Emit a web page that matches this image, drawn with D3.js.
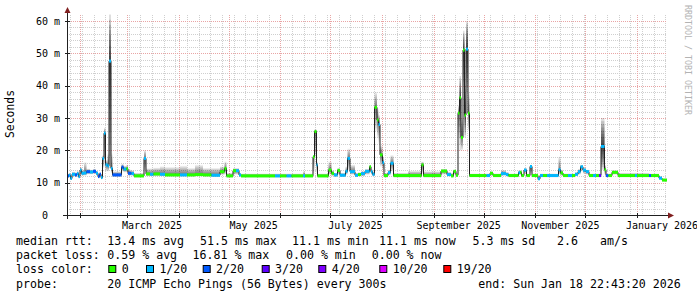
<!DOCTYPE html>
<html><head><meta charset="utf-8">
<script src="https://cdn.jsdelivr.net/npm/d3@7"></script>
<style>html,body{margin:0;padding:0;background:#fff;}svg{display:block;}text{font-family:"DejaVu Sans Mono",monospace;}</style>
</head><body><div id="chart"></div>
<script>
// ---------- data ----------
const startDate = "2025-01-24T00:00:00Z";
const endDate = "2026-01-19T00:00:00Z";
// start of each sample run, in days after startDate
const dayOffsets = [0,1.2,2.1,3,4.8,6,6.9,7.8,8.7,10.2,11.7,13.8,15.6,17.4,18.6,19.5,20.4,21.3,22.2,23.1,24.3,25.2,26.4,27.3,32.7,33.9,35.7,36.6,38.7,40.2,46.2,47.4,49.8,51.9,55.8,58.8,67.8,72,76.8,81.6,86.7,91.8,94.5,95.7,99.6,101.4,103.2,104.4,124.8,127.8,131.7,134.7,141.6,142.8,147.6,148.5,149.7,150.3,156.9,158.7,160.2,162.3,163.8,167.1,168.3,169.8,172.8,174.6,176.4,178.8,181.5,182.4,183.3,184.5,186,186.9,187.8,189.3,190.2,192.6,194.1,195.9,204.6,212.7,213.9,224.4,228,230.4,231.9,233.4,234.6,235.5,236.4,237.6,238.5,239.4,240.6,241.5,251.7,253.8,255.6,260.4,263.4,264.9,270.9,271.8,272.7,274.2,275.7,277.8,279,282.6,283.8,285.6,288,294.9,296.1,297.6,300.6,303,304.8,306.6,308.1,309.6,311.4,313.2,315.6,317.4,319.2,320.4,322.5,323.4,324.9,327,330.6,340.8,342,349.2,350.4,355.2,357];
// median rtt (ms)
const medianMs = [12.1,12.3,11.3,12.6,12.4,12.8,11.9,13.9,12.9,13.0,13.4,13.3,13.5,12.9,11.9,12.6,11.6,17.5,25.3,15.5,15.2,47.6,14.4,12.4,14.8,14.2,14.3,12.9,12.8,12.1,17.5,12.7,12.6,12.7,12.6,12.4,12.4,12.4,12.5,12.4,12.3,13.4,14.4,12.1,13.7,13.7,12.4,12.1,12.1,12.1,12.1,12.1,12.1,12.1,18.0,25.8,15.5,12.1,13.9,12.9,12.4,13.8,12.3,13.5,17.5,13.4,12.3,12.5,12.8,13.5,14.9,13.4,12.6,33.3,29.4,28.0,18.6,16.2,12.2,13.1,16.0,12.2,12.2,15.5,12.2,13.6,12.5,12.1,13.5,12.3,31.5,36.3,24.0,51.0,30.9,51.3,31.5,12.2,12.2,12.9,12.2,12.8,12.5,12.2,13.1,13.2,12.2,13.9,12.2,15.0,12.2,11.2,12.2,12.2,12.2,14.0,13.0,12.2,12.2,12.2,12.6,13.4,14.9,13.9,13.4,12.2,12.2,12.2,12.2,21.2,14.0,12.2,12.2,13.2,12.2,12.2,12.2,12.2,12.2,11.4,10.8];
// lost pings out of 20
const lossCount = [2,1,1,1,2,1,1,1,1,1,2,1,2,1,2,2,1,1,1,1,1,1,1,2,2,1,0,2,1,0,1,0,1,0,1,0,1,0,0,0,1,0,0,0,0,1,1,0,1,0,1,0,1,0,0,0,1,0,0,0,1,0,1,1,1,1,1,0,1,1,0,1,1,0,0,1,0,1,0,1,1,0,0,0,0,0,1,0,0,0,0,0,0,0,0,1,0,0,1,0,0,1,1,0,1,0,0,1,0,1,0,1,1,0,1,1,0,0,1,0,1,1,1,1,1,0,1,0,3,1,0,2,0,0,0,1,0,2,0,1,0];
// smoke extent: lowest and highest ping (ms)
const smokeLowMs = [11.5,11.6,10.9,11.9,11.8,12.1,11.3,12.8,12.2,12.2,12.6,12.6,12.7,12.2,11.3,12.0,11.0,14.5,15.0,13.5,13.5,14.5,13.0,11.8,13.5,13.2,13.2,12.2,12.2,11.6,13.5,12.0,12.0,12.0,12.0,11.9,11.9,11.9,12.0,11.9,11.8,12.4,12.6,11.6,12.5,12.5,11.8,11.6,11.6,11.6,11.6,11.6,11.6,11.6,13.0,18.0,13.0,11.6,12.5,12.0,11.8,12.5,11.8,12.5,14.0,12.5,11.8,12.0,12.0,12.5,13.0,12.5,12.0,26.0,24.0,22.0,15.0,14.0,11.6,12.3,13.5,11.6,11.6,13.0,11.6,12.5,12.0,11.6,12.5,11.8,24.0,20.0,20.0,40.0,24.0,38.0,26.0,11.7,11.7,12.2,11.7,12.2,12.0,11.7,12.4,12.4,11.7,12.8,11.7,13.0,11.7,10.8,11.7,11.7,11.7,12.5,12.2,11.7,11.7,11.7,12.0,12.5,13.5,12.8,12.5,11.7,11.7,11.7,11.7,14.0,12.5,11.7,11.7,12.5,11.7,11.7,11.7,11.7,11.7,11.0,10.4];
const smokeHighMs = [12.8,13.0,12.0,13.3,13.2,13.6,12.6,14.8,14.0,16.3,14.3,14.0,14.2,13.6,12.6,13.2,12.3,18.5,27.0,17.0,19.0,62.0,19.0,13.5,15.8,15.2,15.5,14.0,13.8,13.0,20.0,14.4,14.4,14.6,15.0,14.8,15.2,14.5,15.5,14.5,14.5,15.0,16.5,13.0,14.5,14.5,13.0,12.8,12.8,12.8,12.8,12.8,13.5,12.8,18.5,26.5,16.5,12.8,16.5,13.8,13.0,14.5,13.0,15.0,20.5,15.5,13.0,13.2,13.5,14.2,15.5,14.2,13.5,38.0,33.0,31.0,21.5,18.0,13.0,14.0,18.5,13.0,13.6,16.5,13.5,14.2,13.3,13.0,14.0,13.0,34.0,43.0,30.0,57.0,40.0,60.0,38.0,12.8,12.8,13.5,12.8,13.9,13.3,12.8,13.8,13.8,12.8,14.5,12.8,15.5,12.8,11.8,12.8,12.8,12.8,18.0,14.0,12.8,12.8,12.8,13.2,14.2,15.5,14.5,14.0,12.8,12.8,12.8,12.8,30.0,15.5,12.8,12.8,13.8,13.0,13.0,13.0,12.8,12.8,12.0,11.3];
const yTicks = [0,10,20,30,40,50,60];
const lossLevels = [0,1,2,3,4,10,19];
const lossLabels = ["0","1/20","2/20","3/20","4/20","10/20","19/20"];
const lossColors = ["#26ff00","#00b8ff","#0059ff","#5e00ff","#7e00ff","#dd00ff","#ff0000"];
const legendRtt = ["median rtt:","13.4 ms avg","51.5 ms max","11.1 ms min","11.1 ms now","5.3 ms sd","2.6","am/s"];
const legendLoss = ["packet loss:","0.59 % avg","16.81 % max","0.00 % min","0.00 % now"];
const probeText = ["probe:","20 ICMP Echo Pings (56 Bytes) every 300s","end: Sun Jan 18 22:43:20 2026"];

// ---------- drawing ----------
const W = 697, H = 297;
const svg = d3.select("#chart").append("svg").attr("width", W).attr("height", H);
svg.append("rect").attr("width", W).attr("height", H).attr("fill", "#fff");

const t0 = new Date(startDate), t1 = new Date(endDate);
const x = d3.scaleUtc().domain([t0, t1]).range([67, 667]);
const y = d3.scaleLinear().domain([0, 61.86]).range([215, 15]);
const dayToDate = d => new Date(t0.getTime() + d * 86400000);

// grid
const grid = svg.append("g");
const months = d3.utcMonth.range(t0, t1);
const monthKeys = new Set(months.map(d => +d));
d3.utcSunday.range(t0, t1).filter(d => !monthKeys.has(+d)).forEach(d => {
  grid.append("line").attr("x1", Math.round(x(d)) + 0.5).attr("x2", Math.round(x(d)) + 0.5)
    .attr("y1", 15).attr("y2", 215).attr("stroke", "#cfcfcf").attr("stroke-dasharray", "1,1");
});
for (let v = 2; v <= 60; v += 2) {
  if (v % 10 === 0) continue;
  const yy = Math.round(y(v)) + 0.5;
  grid.append("line").attr("x1", 67).attr("x2", 667).attr("y1", yy).attr("y2", yy)
    .attr("stroke", "#cfcfcf").attr("stroke-dasharray", "1,1");
}
months.forEach(d => {
  grid.append("line").attr("x1", Math.round(x(d)) + 0.5).attr("x2", Math.round(x(d)) + 0.5)
    .attr("y1", 15).attr("y2", 215).attr("stroke", "#e9a5a5").attr("stroke-dasharray", "1,1");
});
yTicks.filter(v => v > 0).forEach(v => {
  const yy = Math.round(y(v)) + 0.5;
  grid.append("line").attr("x1", 67).attr("x2", 667).attr("y1", yy).attr("y2", yy)
    .attr("stroke", "#e9a5a5").attr("stroke-dasharray", "1,1");
});

// samples
const samples = dayOffsets.map((d, i) => ({
  x0: x(dayToDate(d)),
  x1: x(dayToDate(i + 1 < dayOffsets.length ? dayOffsets[i + 1] : 360)),
  m: medianMs[i], loss: lossCount[i], lo: smokeLowMs[i], hi: smokeHighMs[i]
}));

// smoke
const smoke = svg.append("g");
const layers = 9;
samples.forEach(s => {
  const spread = s.hi - s.lo;
  const op = spread > 15 ? 0.13 : 0.075;
  for (let k = 0; k < layers; k++) {
    const f = k / layers;
    const top = s.hi - (s.hi - s.m) * f;
    const bot = s.lo + (s.m - s.lo) * f;
    smoke.append("rect").attr("x", s.x0).attr("width", Math.max(0.8, s.x1 - s.x0))
      .attr("y", y(top)).attr("height", Math.max(0, y(bot) - y(top)))
      .attr("fill", "#000").attr("fill-opacity", op);
  }
});

// median line
const pts = samples.map(s => [s.x0, y(s.m)]);
pts.push([samples[samples.length - 1].x1, y(samples[samples.length - 1].m)]);
svg.append("path").attr("d", d3.line().curve(d3.curveStepAfter)(pts))
  .attr("fill", "none").attr("stroke", "#202020").attr("stroke-width", 1);

// loss-coloured median band
const colorFor = l => { let c = lossColors[0]; lossLevels.forEach((lv, i) => { if (l >= lv) c = lossColors[i]; }); return c; };
svg.append("g").selectAll("rect").data(samples).join("rect")
  .attr("x", s => s.x0).attr("width", s => Math.max(1, s.x1 - s.x0))
  .attr("y", s => y(s.m) - 1.5).attr("height", 3).attr("fill", s => colorFor(s.loss));

// axes
const ax = svg.append("g").attr("stroke", "#202020");
ax.append("line").attr("x1", 63).attr("x2", 671).attr("y1", 215.5).attr("y2", 215.5);
ax.append("line").attr("x1", 67.5).attr("x2", 67.5).attr("y1", 219).attr("y2", 12);
yTicks.forEach(v => {
  const yy = Math.round(y(v)) + 0.5;
  ax.append("line").attr("x1", 65).attr("x2", 70).attr("y1", yy).attr("y2", yy);
});
months.forEach(d => {
  const xx = Math.round(x(d)) + 0.5;
  ax.append("line").attr("x1", xx).attr("x2", xx).attr("y1", 213).attr("y2", 218);
});
svg.append("path").attr("d", "M668,212.5L674,215.5L668,218.5Z").attr("fill", "#801f1f");
svg.append("path").attr("d", "M64.5,13L67.5,7L70.5,13Z").attr("fill", "#801f1f");

// y labels
svg.append("g").selectAll("text").data(yTicks).join("text")
  .attr("x", v => v === 0 ? 48 : 60).attr("y", v => y(v) + 3.6)
  .attr("text-anchor", "end").attr("font-size", 10).attr("fill", "#000")
  .text(v => v === 0 ? "0" : v + " m");
// x labels
const labelMonths = months.filter(d => d.getUTCMonth() % 2 === 0);
svg.append("g").selectAll("text").data(labelMonths).join("text")
  .attr("x", d => x(new Date(d.getTime() + 15 * 86400000))).attr("y", 229)
  .attr("text-anchor", "middle").attr("font-size", 10).attr("fill", "#000")
  .text(d3.utcFormat("%B %Y"));

svg.append("text").attr("transform", "translate(14,114) rotate(-90)")
  .attr("text-anchor", "middle").attr("font-size", 11.4).attr("fill", "#000").text("Seconds");
svg.append("text").attr("transform", "translate(685,5) rotate(90)")
  .attr("font-size", 8.3).attr("fill", "#b3b3b3").text("RRDTOOL / TOBI OETIKER");

// legend
const lg = svg.append("g").attr("font-size", 11.6).attr("fill", "#000");
const rttX = [16,107.3,200,292,379,472.5,557,600];
legendRtt.forEach((t, i) => lg.append("text").attr("x", rttX[i]).attr("y", 244.5).text(t));
const lossX = [16,107.3,192.5,286,371.7];
legendLoss.forEach((t, i) => lg.append("text").attr("x", lossX[i]).attr("y", 259).text(t));
lg.append("text").attr("x", 16).attr("y", 273).text("loss color:");
const boxX = [108.3,146,202.7,261.7,318.3,379.3,443.3];
lossLabels.forEach((t, i) => {
  lg.append("rect").attr("x", boxX[i] + 0.5).attr("y", 265.5).attr("width", 7).attr("height", 7)
    .attr("fill", lossColors[i]).attr("stroke", "#000").attr("stroke-width", 1);
  lg.append("text").attr("x", boxX[i] + 13.4).attr("y", 273).text(t);
});
const probeX = [16,107.3,478.3];
probeText.forEach((t, i) => lg.append("text").attr("x", probeX[i]).attr("y", 287.5).text(t));
</script></body></html>
